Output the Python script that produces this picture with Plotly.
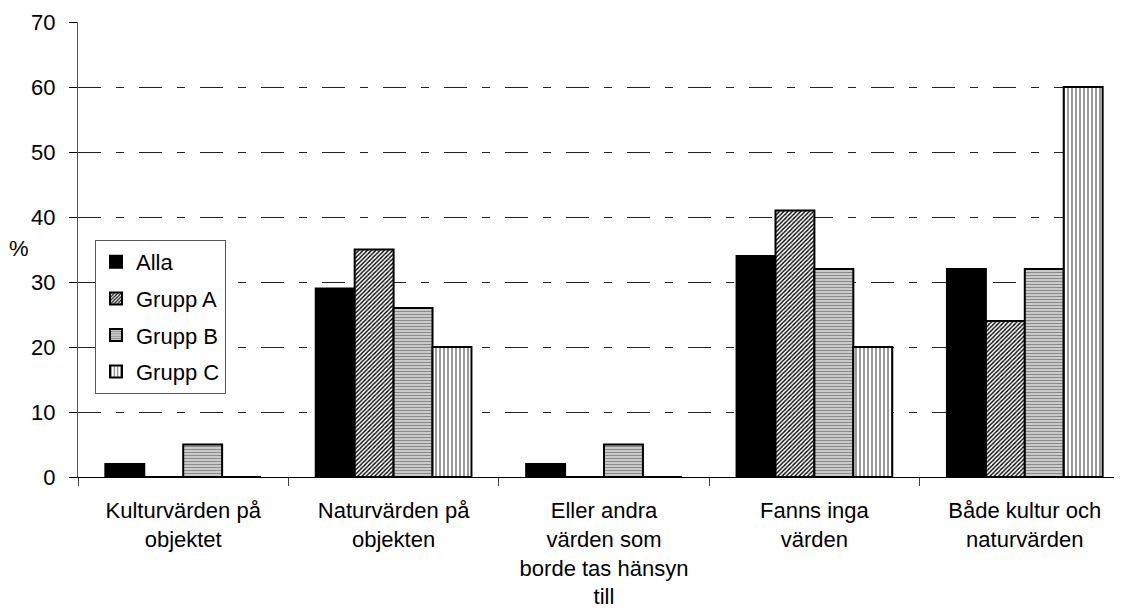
import plotly.graph_objects as go

categories = [
    "Kulturvärden på<br>objektet",
    "Naturvärden på<br>objekten",
    "Eller andra<br>värden som<br>borde tas hänsyn<br>till",
    "Fanns inga<br>värden",
    "Både kultur och<br>naturvärden",
]
alla = [2, 29, 2, 34, 32]
grupp_a = [0, 35, 0, 41, 24]
grupp_b = [5, 26, 5, 32, 32]
grupp_c = [0, 20, 0, 20, 60]
y_ticks = [0, 10, 20, 30, 40, 50, 60, 70]

FONT = "Liberation Sans, Arial, sans-serif"
FS = 22
line = dict(color="black", width=2)

fig = go.Figure()
fig.add_trace(go.Bar(name="Alla", x=categories, y=alla, legendgroup="a",
                     marker=dict(color="black", line=line)))
fig.add_trace(go.Bar(name="Grupp A", x=categories, y=grupp_a, legendgroup="b",
                     marker=dict(color="white", line=line,
                                 pattern=dict(shape="/", fgcolor="black", bgcolor="white",
                                              size=3, solidity=0.45, fillmode="replace"))))
fig.add_trace(go.Bar(name="Grupp B", x=categories, y=grupp_b, legendgroup="c",
                     marker=dict(color="#d4d4d4", line=line,
                                 pattern=dict(shape="-", fgcolor="#8a8a8a", bgcolor="#d8d8d8",
                                              size=3, solidity=0.45, fillmode="replace"))))
fig.add_trace(go.Bar(name="Grupp C", x=categories, y=grupp_c, legendgroup="d",
                     marker=dict(color="white", line=line,
                                 pattern=dict(shape="|", fgcolor="#999999", bgcolor="white",
                                              size=4, solidity=0.5, fillmode="replace"))))

# page has an 8px body margin; plot area: x 78..1130, y 22..477 on the page
L, T, W, H = 70, 14, 1122, 616
PW = W - L
PB = 477 - 8
PH = PB - T

fig.update_layout(
    width=W, height=H,
    margin=dict(l=L, r=0, t=T, b=H - PB, pad=0),
    paper_bgcolor="white", plot_bgcolor="white",
    font=dict(family=FONT, size=FS, color="black"),
    barmode="group", bargap=0.26, bargroupgap=0,
    showlegend=True,
    legend=dict(x=(87 - L) / PW, y=(PB - 232) / PH, xanchor="left", yanchor="top",
                bgcolor="white", bordercolor="#555555", borderwidth=1,
                font=dict(family=FONT, size=FS, color="black"),
                itemwidth=30, tracegroupgap=5),
    annotations=[dict(text="%", x=(11 - L) / PW, y=(PB - 240) / PH,
                      xref="paper", yref="paper", xanchor="center", yanchor="middle",
                      showarrow=False, font=dict(family=FONT, size=FS, color="black"))],
)

fig.update_xaxes(
    type="category", range=[-0.5, 4.5],
    showline=True, linecolor="black", linewidth=1,
    ticks="outside", tickson="boundaries", ticklen=8, tickcolor="#444444", tickwidth=1,
    ticklabelstandoff=14,
    showgrid=False, zeroline=False,
    tickfont=dict(family=FONT, size=FS, color="black"),
)
fig.update_yaxes(
    range=[0, 70], tickvals=y_ticks,
    showline=True, linecolor="#555555", linewidth=1,
    ticks="outside", ticklen=8, tickcolor="black", tickwidth=1,
    ticklabelstandoff=9,
    showgrid=True, gridcolor="#222222", gridwidth=1, griddash="23px,15px,8px,15px",
    zeroline=False,
    tickfont=dict(family=FONT, size=FS, color="black"),
)

fig.write_html("out.html")
